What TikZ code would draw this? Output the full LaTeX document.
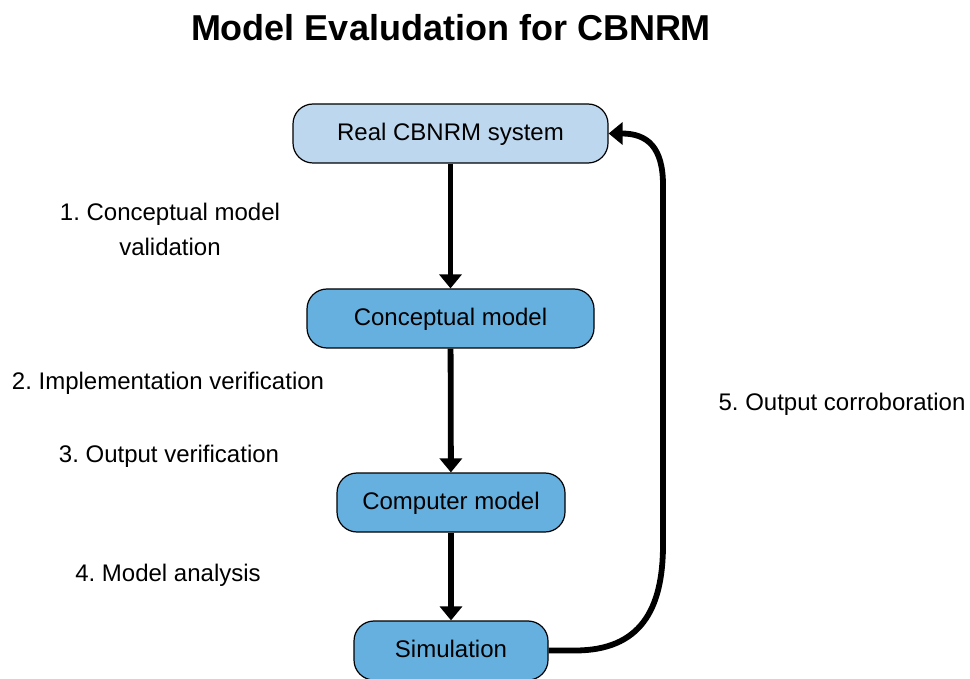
\documentclass[tikz,border=0pt]{standalone}
\usepackage{fontspec}
\setmainfont{Liberation Sans}
\usetikzlibrary{arrows.meta}
\definecolor{paleblue}{HTML}{BDD7EE}
\definecolor{midblue}{HTML}{66B0E0}
\frenchspacing

\begin{document}
\begin{tikzpicture}[x=0.5pt, y=-0.5pt,
        box/.style={draw=black, line width=0.6pt, rounded corners=10pt, minimum height=29.5pt, inner sep=0pt, text height=9pt, text depth=2pt, font=\fontsize{12}{14}\selectfont},
        flow/.style={line width=2.9pt, -{Triangle[width=11pt,length=7pt]}},
        lbl/.style={align=center, font=\fontsize{12}{17.5}\selectfont}]
        \useasboundingbox (0,0) rectangle (970,679);
        \node[font=\bfseries\fontsize{18}{22}\selectfont] (title) at (451,28) {Model Evaludation for CBNRM};
        % boxes
        \node[box, fill=paleblue, minimum width=157.5pt] (real) at (450.5,133.5) {Real CBNRM system};
        \node[box, fill=midblue, minimum width=143.5pt] (concept) at (450.5,318.5) {Conceptual model};
        \node[box, fill=midblue, minimum width=114pt] (computer) at (451,502.5) {Computer model};
        \node[box, fill=midblue, minimum width=97pt] (sim) at (451,650.5) {Simulation};
        % labels
        \node[lbl] (validation) at (170,229.5) {1. Conceptual model\\validation};
        \node[lbl] (implement) at (168,383) {2. Implementation verification};
        \node[lbl] (outverif) at (169,456) {3. Output verification};
        \node[lbl] (analysis) at (168,575) {4. Model analysis};
        \node[lbl] (corrob) at (842,404) {5. Output corroboration};
        % arrows
        \draw[flow] (real) -- (concept);
        \draw[flow] (concept) -- (computer);
        \draw[flow] (computer) -- (sim);
        \draw[flow] (sim.east) -- (575,650.5) .. controls (640,650.5) and (663,610) .. (663,545)
            -- (663,185) .. controls (663,148) and (648,133.5) .. (real.east);
\end{tikzpicture}
\end{document}
